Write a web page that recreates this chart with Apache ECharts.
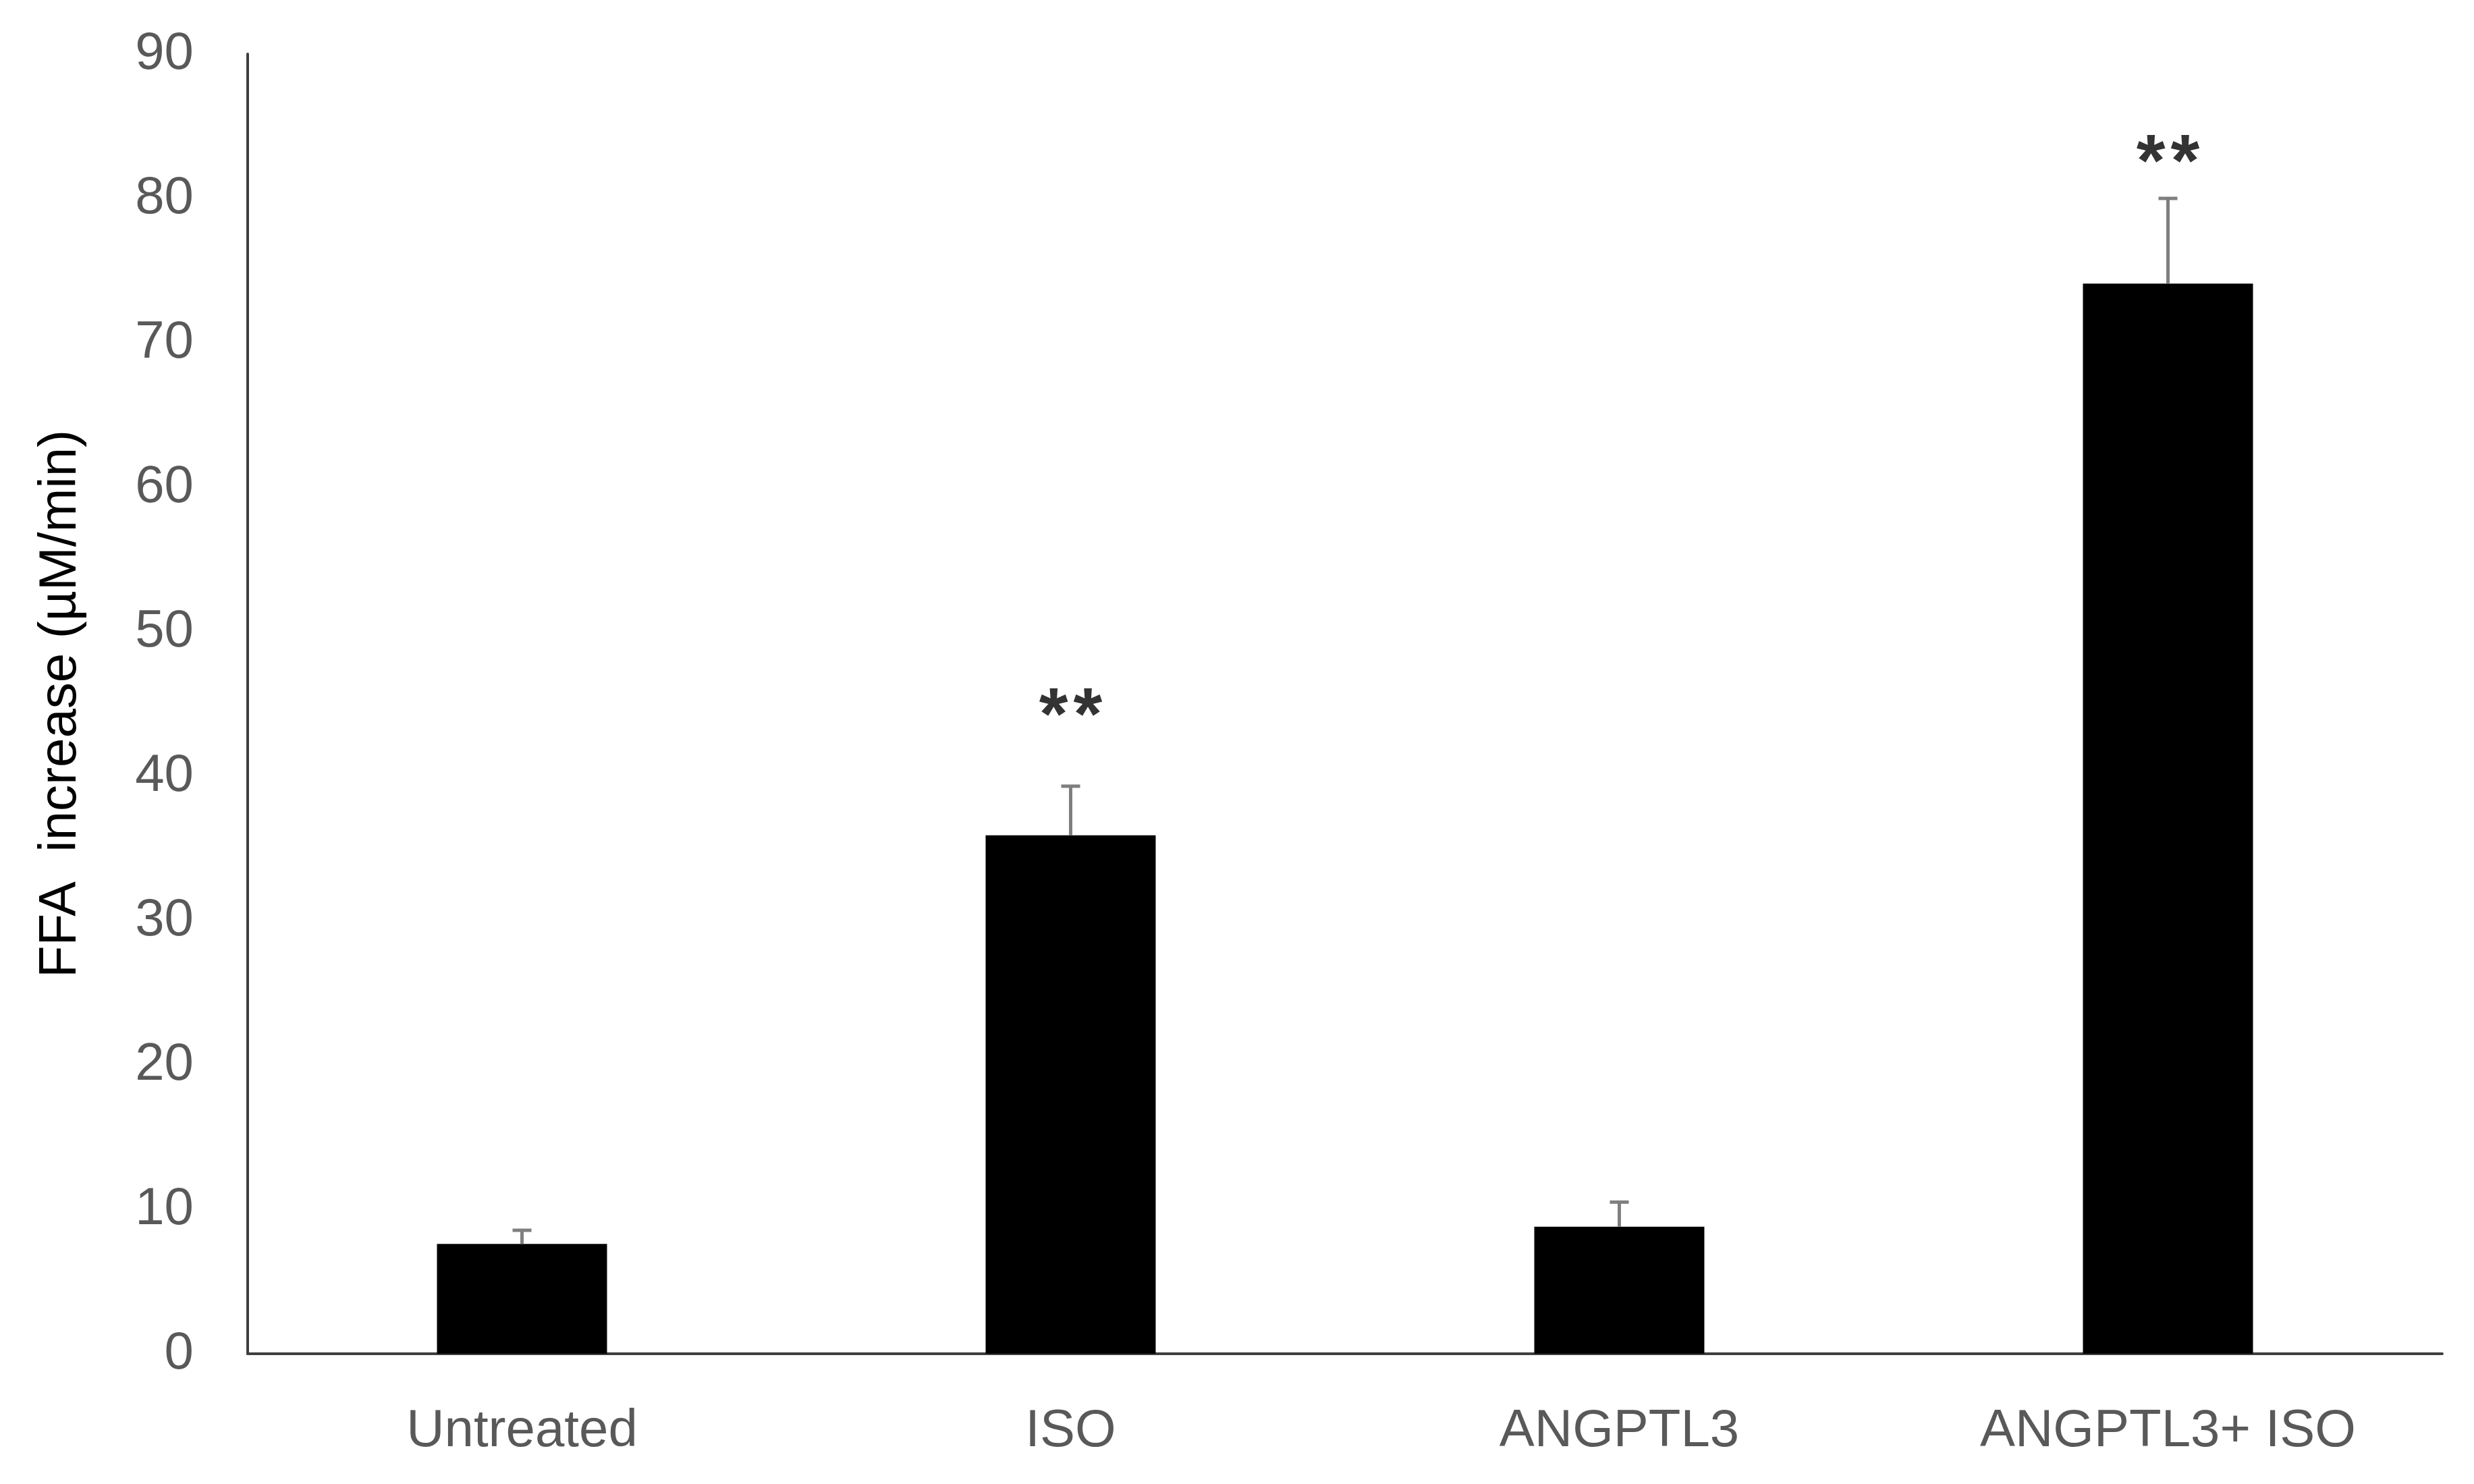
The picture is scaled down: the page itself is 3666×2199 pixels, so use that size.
<!DOCTYPE html>
<html>
<head>
<meta charset="utf-8">
<script src="https://cdn.jsdelivr.net/npm/echarts@6/dist/echarts.min.js"></script>
<style>
html,body{margin:0;padding:0;background:#fff;}
#chart{width:3666px;height:2199px;}
</style>
</head>
<body>
<div id="chart"></div>
<script>
var categories = ['Untreated', 'ISO', 'ANGPTL3', 'ANGPTL3+ ISO'];
var means = [7.6, 35.9, 8.8, 74.1];
var errorTops = [8.55, 39.3, 10.5, 80.0];
var sigText = ['', '**', '', '**'];
var sigValue = [null, 44.0, null, 82.3];
var yTicks = [0, 10, 20, 30, 40, 50, 60, 70, 80, 90];

var chart = echarts.init(document.getElementById('chart'));

var errData = categories.map(function (c, i) { return [i, means[i], errorTops[i]]; });
var sigData = categories.map(function (c, i) {
  if (!sigText[i]) return null;
  var rich = sigText[i].split('').map(function (ch) { return '{s|' + ch + '}'; }).join('');
  return { value: [i, sigValue[i]], label: { formatter: rich } };
}).filter(function (d) { return d; });

chart.setOption({
  backgroundColor: '#ffffff',
  animation: false,
  grid: { left: 367, right: 47, top: 80, bottom: 193, containLabel: false },
  xAxis: {
    type: 'category',
    data: categories,
    axisLine: { show: true, lineStyle: { color: '#3f3f3f', width: 4 } },
    axisTick: { show: false },
    axisLabel: { color: '#595959', fontSize: 78, fontFamily: 'Liberation Sans', margin: 76 }
  },
  yAxis: {
    type: 'value',
    min: yTicks[0],
    max: yTicks[yTicks.length - 1],
    interval: 10,
    name: 'FFA  increase (µM/min)',
    nameLocation: 'middle',
    nameGap: 238,
    nameTextStyle: { color: '#000000', fontSize: 78, fontFamily: 'Liberation Sans' },
    axisLine: { show: true, lineStyle: { color: '#3f3f3f', width: 4 } },
    axisTick: { show: false },
    splitLine: { show: false },
    axisLabel: { color: '#595959', fontSize: 78, fontFamily: 'Liberation Sans', margin: 80 }
  },
  series: [
    {
      type: 'bar',
      data: means,
      barWidth: 252,
      itemStyle: { color: '#000000' }
    },
    {
      type: 'custom',
      data: errData,
      z: 5,
      renderItem: function (params, api) {
        var x = api.value(0);
        var p0 = api.coord([x, api.value(1)]);
        var p1 = api.coord([x, api.value(2)]);
        var cap = 14;
        var style = { stroke: '#7f7f7f', lineWidth: 5 };
        return {
          type: 'group',
          children: [
            { type: 'line', shape: { x1: p0[0], y1: p0[1], x2: p1[0], y2: p1[1] }, style: style },
            { type: 'line', shape: { x1: p1[0] - cap, y1: p1[1], x2: p1[0] + cap, y2: p1[1] }, style: style }
          ]
        };
      }
    },
    {
      type: 'scatter',
      data: sigData,
      symbolSize: 0,
      label: {
        show: true,
        position: 'inside',
        verticalAlign: 'middle',
        rich: {
          s: {
            color: '#000000',
            fontSize: 110,
            fontWeight: 'bold',
            fontFamily: 'Liberation Sans',
            padding: [0, 4, 0, 4]
          }
        }
      }
    }
  ]
});
</script>
</body>
</html>
